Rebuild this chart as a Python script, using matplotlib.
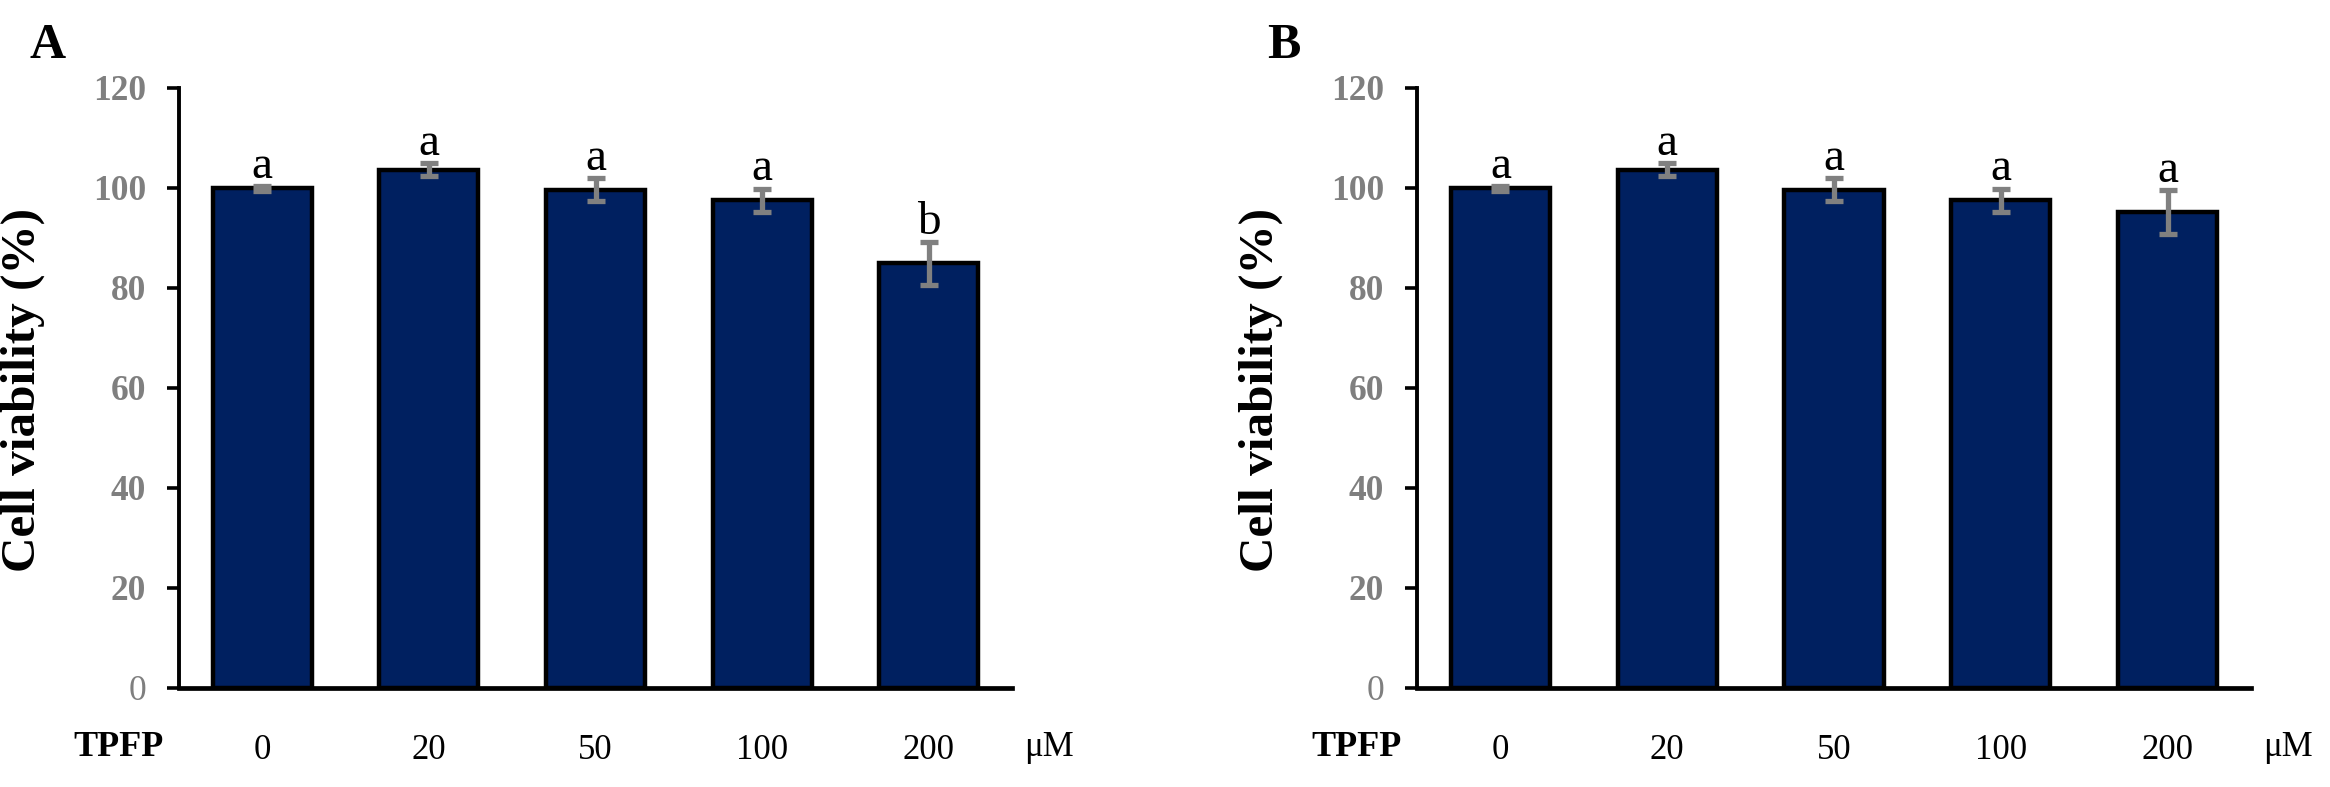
import matplotlib
matplotlib.use("Agg")
import matplotlib.pyplot as plt

plt.rcParams['font.family'] = ['Liberation Serif', 'DejaVu Serif']

# ---- data ----
concentrations = ["0", "20", "50", "100", "200"]
viability_A = [100.0, 103.7, 99.7, 97.6, 85.0]
error_A = [0.5, 1.3, 2.3, 2.3, 4.3]
letters_A = ["a", "a", "a", "a", "b"]

viability_B = [100.0, 103.7, 99.7, 97.6, 95.3]
error_B = [0.5, 1.3, 2.3, 2.3, 4.4]
letters_B = ["a", "a", "a", "a", "a"]

panel_labels = ["A", "B"]
y_ticks = [0, 20, 40, 60, 80, 100, 120]
ylabel = "Cell viability (%)"
xlabel_left = "TPFP"
unit_label = "\u03bcM"

W, H = 2330, 787
fig = plt.figure(figsize=(W / 100, H / 100), dpi=100)

bar_color = "#002060"
err_color = "#808080"
tick_gray = "#7f7f7f"

axes_px = [(179, 1012), (1417, 2251)]
y_top, y_bot = 88, 688

panels = [(viability_A, error_A, letters_A), (viability_B, error_B, letters_B)]

for i, ((vals, errs, lets), (x0, x1)) in enumerate(zip(panels, axes_px)):
    ax = fig.add_axes([x0 / W, (H - y_bot) / H, (x1 - x0) / W, (y_bot - y_top) / H])
    xs = list(range(len(concentrations)))
    ax.bar(xs, vals, width=0.595, color=bar_color, edgecolor="black",
           linewidth=3.2, zorder=2)
    ax.errorbar(xs, vals, yerr=errs, fmt="none", ecolor=err_color,
                elinewidth=3.8, capsize=6.8, capthick=3.8, zorder=3)
    for x, v, e, l in zip(xs, vals, errs, lets):
        ax.text(x, v + e + 1.6, l, ha="center", va="baseline",
                fontsize=34, color="black", zorder=4)

    ax.set_xlim(-0.5, 4.5)
    ax.set_ylim(0, 120)
    ax.set_yticks(y_ticks)
    ax.set_yticklabels([str(t) for t in y_ticks])
    for lab in ax.get_yticklabels():
        lab.set_fontweight("bold" if lab.get_text() != "0" else "normal")
        lab.set_color(tick_gray)
        lab.set_fontsize(25.5)
    ax.tick_params(axis="y", direction="out", length=8.6, width=2.6, pad=15,
                   color="black")
    ax.set_xticks(xs)
    ax.set_xticklabels(concentrations, fontsize=25, color="black")
    ax.tick_params(axis="x", length=0, pad=33)

    for s in ["top", "right"]:
        ax.spines[s].set_visible(False)
    ax.spines["left"].set_linewidth(2.8)
    ax.spines["bottom"].set_linewidth(3.4)
    ax.spines["bottom"].set_zorder(5)

    ax.set_ylabel(ylabel, fontsize=35.5, fontweight="bold")
    ax.yaxis.set_label_coords((45 - 179) / (x1 - x0),
                              (y_bot - 390) / (y_bot - y_top))

    fig.text((x0 - 60) / W, (H - 747) / H, xlabel_left, fontsize=26,
             fontweight="bold", ha="center", va="center")
    fig.text((x1 + 37) / W, (H - 747) / H, unit_label, fontsize=25,
             ha="center", va="center")
    fig.text((x0 - 150) / W, (H - 58) / H, panel_labels[i], fontsize=36,
             fontweight="bold", ha="left", va="baseline")

fig.savefig("out.png", dpi=100, facecolor="white")
